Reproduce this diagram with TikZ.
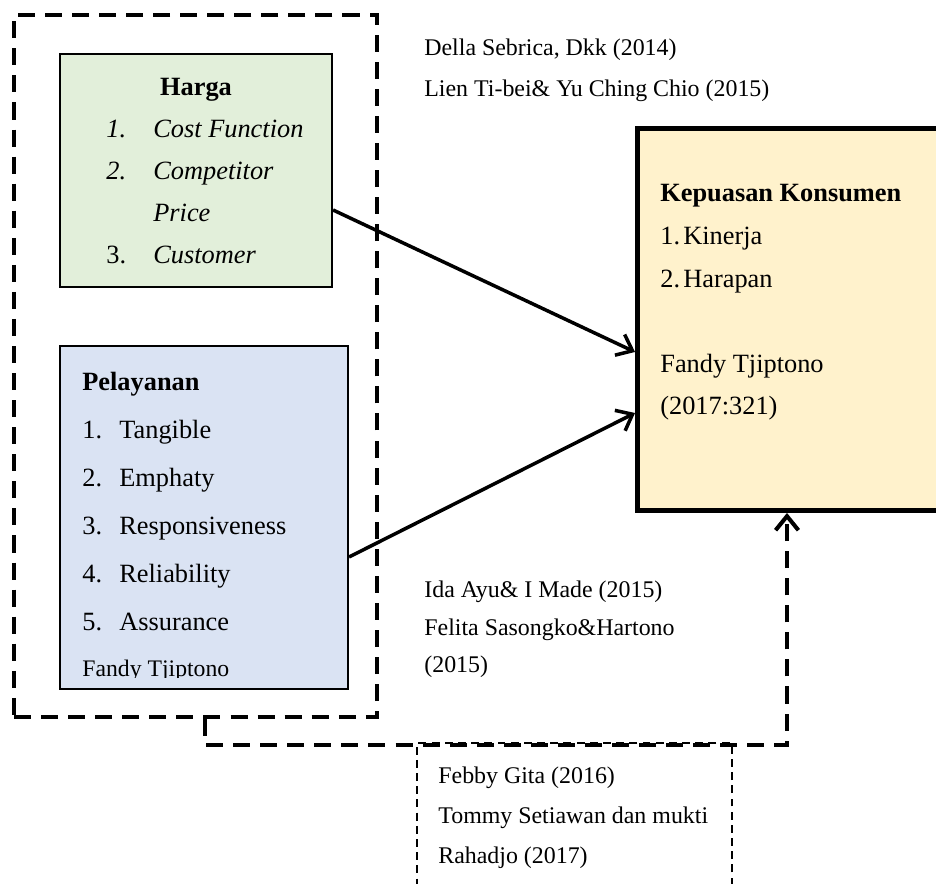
\documentclass[tikz,border=0pt]{standalone}
\usepackage{fontspec}
\setmainfont{Liberation Serif}
\usepackage{xcolor}
\usepackage{tikz}
\usetikzlibrary{arrows.meta, positioning}
\definecolor{hijaumuda}{HTML}{E2EFDA}
\definecolor{birumuda}{HTML}{DAE3F3}
\definecolor{kuningmuda}{HTML}{FFF2CC}

\begin{document}
\begin{tikzpicture}[>={Straight Barb[length=8pt,width=13pt]},
      var/.style={draw, line width=1.2pt, inner sep=0pt},
      grup/.style={draw, line width=2.3pt, dash pattern=on 9.7pt off 5.7pt},
      tipis/.style={draw, line width=0.8pt, dash pattern=on 4.5pt off 3pt},
      garis/.style={->, line width=2pt},
      isi/.style={anchor=base west, inner sep=0pt, font=\fontsize{15}{#1}\selectfont},
      ref/.style={anchor=base west, inner sep=0pt, font=\fontsize{13.6}{#1}\selectfont}]

    \useasboundingbox (0,0) rectangle (18.72,-17.68);

    % kotak variabel
    \node[var, fill=hijaumuda, minimum width=5.44cm, minimum height=4.66cm] (harga) at (3.92,-3.41) {};
    \node[var, fill=birumuda, minimum width=5.76cm, minimum height=6.86cm] (pelayanan) at (4.08,-10.35) {};
    \node[draw, line width=2.8pt, fill=kuningmuda, inner sep=0pt,
          minimum width=6.45cm, minimum height=7.64cm] (kepuasan) at (15.975,-6.39) {};
    \node[grup, inner sep=0pt, minimum width=7.26cm, minimum height=14.04cm] (grupx) at (3.91,-7.32) {};
    \node[tipis, inner sep=0pt, minimum width=6.3cm, minimum height=3.14cm] (kotakref) at (11.49,-16.43) {};

    % Harga
    \node[anchor=base, inner sep=0pt, font=\fontsize{15}{18}\selectfont\bfseries] (hargajudul) at (3.92,-1.92) {Harga};
    \node[isi=23.9pt] (hargaisi) at (2.12,-2.76) {\begin{tabular}[t]{@{}p{0.94cm}@{}l@{}}
      \textit{1.} & \textit{Cost Function}\\
      \textit{2.} & \textit{Competitor}\\
                  & \textit{Price}\\
      3.          & \textit{Customer}
    \end{tabular}};

    % Pelayanan
    \node[isi=27.3pt] (pelayananisi) at (1.64,-7.82) {\begin{tabular}[t]{@{}p{0.74cm}@{}l@{}}
      \multicolumn{2}{@{}l@{}}{\textbf{Pelayanan}}\\
      1. & Tangible\\
      2. & Emphaty\\
      3. & Responsiveness\\
      4. & Reliability\\
      5. & Assurance
    \end{tabular}};
    \begin{scope}
      \clip (1.2,-6.9) rectangle (6.9,-13.56);
      \node[anchor=base west, inner sep=0pt, font=\fontsize{13.5}{16}\selectfont] (pelayananref) at (1.64,-13.54) {Fandy Tjiptono};
    \end{scope}

    % Kepuasan Konsumen
    \node[isi=24.2pt] (kepuasanisi) at (13.2,-4.04) {\begin{tabular}[t]{@{}p{0.46cm}@{}l@{}}
      \multicolumn{2}{@{}l@{}}{\textbf{Kepuasan Konsumen}}\\
      1. & Kinerja\\
      2. & Harapan\\[24.2pt]
      \multicolumn{2}{@{}l@{}}{Fandy Tjiptono}\\
      \multicolumn{2}{@{}l@{}}{(2017:321)}
    \end{tabular}};

    % referensi
    \node[ref=22.8pt] (ref1) at (8.48,-1.12) {\begin{tabular}[t]{@{}l@{}}
      Della Sebrica, Dkk (2014)\\
      Lien Ti-bei\& Yu Ching Chio (2015)
    \end{tabular}};
    \node[ref=21.3pt] (ref2) at (8.48,-11.96) {\begin{tabular}[t]{@{}l@{}}
      Ida Ayu\& I Made (2015)\\
      Felita Sasongko\&Hartono\\
      (2015)
    \end{tabular}};
    \node[ref=22.5pt] (ref3) at (8.76,-15.68) {\begin{tabular}[t]{@{}l@{}}
      Febby Gita (2016)\\
      Tommy Setiawan dan mukti\\
      Rahadjo (2017)
    \end{tabular}};

    % panah
    \draw[garis] ([yshift=-0.79cm]harga.east) -- ([yshift=-0.65cm]kepuasan.west);
    \draw[garis] ([yshift=-0.79cm]pelayanan.east) -- ([yshift=-1.87cm]kepuasan.west);
    \draw[grup, ->] ([xshift=0.19cm]grupx.south) -- ++(0,-0.52) -| ([xshift=-0.235cm]kepuasan.south);
\end{tikzpicture}
\end{document}
